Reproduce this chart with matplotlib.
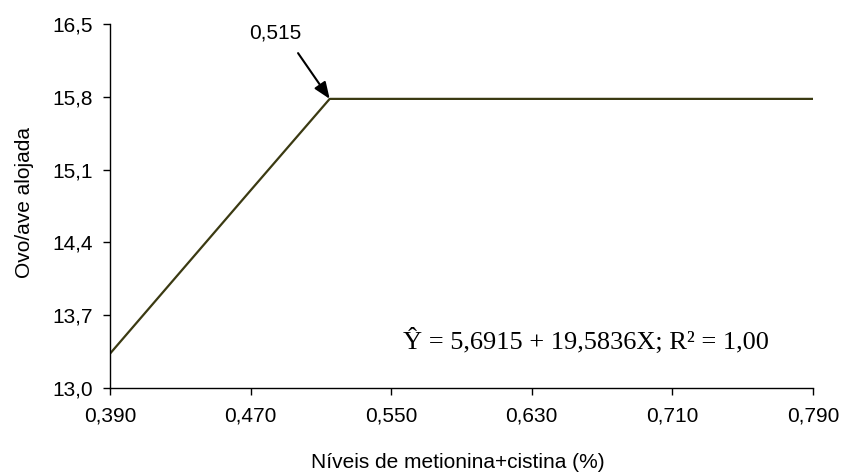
import matplotlib
matplotlib.use("Agg")
import matplotlib.pyplot as plt

# Data
x_levels = [0.390, 0.470, 0.515, 0.550, 0.630, 0.710, 0.790]
y_eggs = [13.33, 14.90, 15.78, 15.78, 15.78, 15.78, 15.78]
x_ticks = [0.390, 0.470, 0.550, 0.630, 0.710, 0.790]
x_ticklabels = ["0,390", "0,470", "0,550", "0,630", "0,710", "0,790"]
y_ticks = [13.0, 13.7, 14.4, 15.1, 15.8, 16.5]
y_ticklabels = ["13,0", "13,7", "14,4", "15,1", "15,8", "16,5"]
break_x = 0.515
break_y = 15.78
break_label = "0,515"
equation = "Ŷ = 5,6915 + 19,5836X; R² = 1,00"

plt.rcParams['font.family'] = ['Liberation Sans', 'DejaVu Sans']

fig = plt.figure(figsize=(8.44, 4.72), dpi=100)
ax = fig.add_axes([110/844, 1 - 388/472, (813-110)/844, (388-24)/472])

ax.plot(x_levels, y_eggs, color="#3b3a12", lw=1.6)

ax.set_xlim(0.39, 0.79)
ax.set_ylim(13.0, 16.5)
ax.set_xticks(x_ticks)
ax.set_xticklabels(x_ticklabels)
ax.set_yticks(y_ticks)
ax.set_yticklabels(y_ticklabels)
ax.tick_params(direction="out", length=5, width=1, labelsize=15, colors="black")
ax.tick_params(axis="x", pad=8)
ax.tick_params(axis="y", pad=7)
for s in ["top", "right"]:
    ax.spines[s].set_visible(False)
for s in ["left", "bottom"]:
    ax.spines[s].set_linewidth(1)

ax.set_xlabel("Níveis de metionina+cistina (%)", fontsize=15)
ax.xaxis.set_label_coords(458/703 - 110/703, -(462-388)/364, transform=ax.transAxes)
ax.xaxis.label.set_va("center")
ax.set_ylabel("Ovo/ave alojada", fontsize=15)
ax.yaxis.set_label_coords(-(110-25)/703, (388-202)/364, transform=ax.transAxes)
ax.yaxis.label.set_va("center")

ax.text(0.4839, 16.41, break_label, fontsize=15, ha="center", va="center")
ax.annotate("", xy=(break_x, break_y), xytext=(0.497, 16.22),
            arrowprops=dict(arrowstyle="-|>,head_length=1.0,head_width=0.4",
                            color="black", lw=1.5, shrinkA=0, shrinkB=0))

ax.text(0.5567, 13.45, equation, fontsize=19, family=["Liberation Serif", "DejaVu Serif"],
        ha="left", va="center")

fig.savefig("out.png", dpi=100)
